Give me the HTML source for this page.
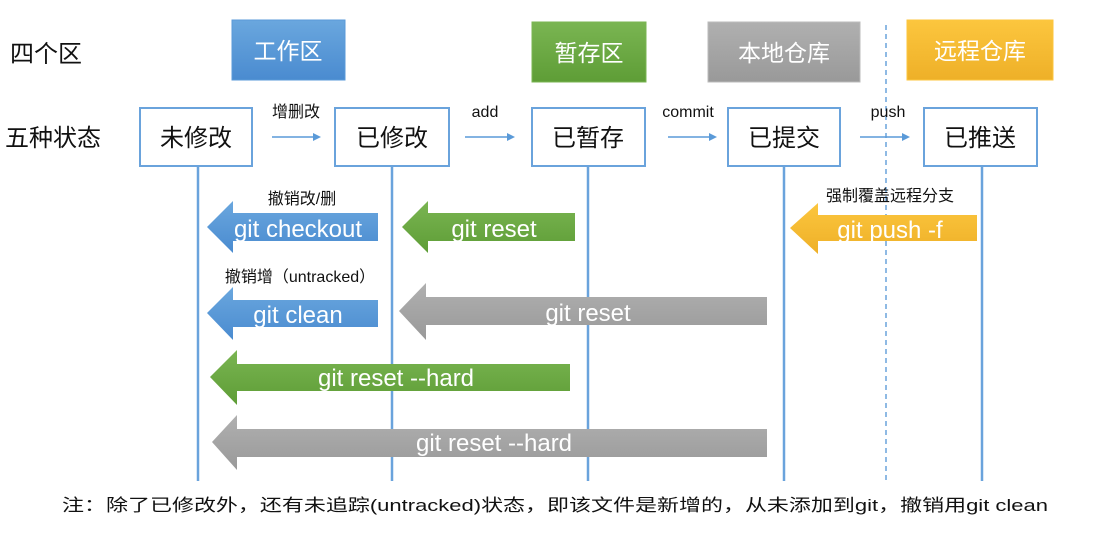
<!DOCTYPE html>
<html><head><meta charset="utf-8"><style>
body{margin:0;background:#fff;}
svg{display:block;font-family:"Liberation Sans","Noto Sans CJK SC",sans-serif;}
</style></head><body>
<svg width="1095" height="538" viewBox="0 0 1095 538">
<defs>
<linearGradient id="gb" x1="0" y1="0" x2="0" y2="1"><stop offset="0" stop-color="#6aa7de"/><stop offset="1" stop-color="#4a8bd0"/></linearGradient>
<linearGradient id="gg" x1="0" y1="0" x2="0" y2="1"><stop offset="0" stop-color="#7ab552"/><stop offset="1" stop-color="#5e9d36"/></linearGradient>
<linearGradient id="gy" x1="0" y1="0" x2="0" y2="1"><stop offset="0" stop-color="#fcc63e"/><stop offset="1" stop-color="#eeb028"/></linearGradient>
<linearGradient id="gr" x1="0" y1="0" x2="0" y2="1"><stop offset="0" stop-color="#b0b0b0"/><stop offset="1" stop-color="#999"/></linearGradient>
</defs>
<text x="10" y="62" font-size="24" fill="#111">四个区</text>
<text x="5" y="146" font-size="24" fill="#111">五种状态</text>
<rect x="232" y="20" width="113" height="60" fill="url(#gb)" stroke="#5a9ad8"/>
<text x="288" y="59" font-size="23" fill="#fff" text-anchor="middle">工作区</text>
<rect x="532" y="22" width="114" height="60" fill="url(#gg)" stroke="#7ab552"/>
<text x="589" y="61" font-size="23" fill="#fff" text-anchor="middle">暂存区</text>
<rect x="708" y="22" width="152" height="60" fill="url(#gr)" stroke="#bbb"/>
<text x="784" y="61" font-size="23" fill="#fff" text-anchor="middle">本地仓库</text>
<rect x="907" y="20" width="146" height="60" fill="url(#gy)" stroke="#fcc63e"/>
<text x="980" y="59" font-size="23" fill="#fff" text-anchor="middle">远程仓库</text>
<line x1="886" y1="25" x2="886" y2="481" stroke="#6aa3dc" stroke-width="1.5" stroke-dasharray="5,4"/>
<g stroke="#6aa3dc" stroke-width="2.5">
<line x1="198" y1="166" x2="198" y2="481"/>
<line x1="392" y1="166" x2="392" y2="481"/>
<line x1="588" y1="166" x2="588" y2="481"/>
<line x1="784" y1="166" x2="784" y2="481"/>
<line x1="982" y1="166" x2="982" y2="481"/>
</g>
<g fill="#fff" stroke="#6aa3dc" stroke-width="2">
<rect x="140" y="108" width="112" height="58"/>
<rect x="335" y="108" width="114" height="58"/>
<rect x="532" y="108" width="113" height="58"/>
<rect x="728" y="108" width="112" height="58"/>
<rect x="924" y="108" width="113" height="58"/>
</g>
<g font-size="24" fill="#111" text-anchor="middle">
<text x="196" y="146">未修改</text>
<text x="392" y="146">已修改</text>
<text x="588" y="146">已暂存</text>
<text x="784" y="146">已提交</text>
<text x="980" y="146">已推送</text>
</g>
<g stroke="#5a9ad8" stroke-width="1.5" fill="#5a9ad8">
<line x1="272" y1="137" x2="314" y2="137"/><path d="M321 137 l-8 -4 v8z" stroke="none"/>
<line x1="465" y1="137" x2="507" y2="137"/><path d="M515 137 l-8 -4 v8z" stroke="none"/>
<line x1="668" y1="137" x2="710" y2="137"/><path d="M717 137 l-8 -4 v8z" stroke="none"/>
<line x1="860" y1="137" x2="902" y2="137"/><path d="M910 137 l-8 -4 v8z" stroke="none"/>
</g>
<g font-size="16" fill="#111" text-anchor="middle">
<text x="296" y="117">增删改</text>
<text x="485" y="117">add</text>
<text x="688" y="117">commit</text>
<text x="888" y="117">push</text>
<text x="302" y="204">撤销改/删</text>
<text x="300" y="282">撤销增（untracked）</text>
<text x="890" y="201">强制覆盖远程分支</text>
</g>
<g>
<path d="M207 227 L233 201 V213 H378 V241 H233 V253Z" fill="url(#gb)"/>
<path d="M402 227 L428 201 V213 H575 V241 H428 V253Z" fill="url(#gg)"/>
<path d="M790 228 L818 203 V215 H977 V241 H818 V254Z" fill="url(#gy)"/>
<path d="M207 313 L233 287 V300 H378 V327 H233 V340Z" fill="url(#gb)"/>
<path d="M399 311 L426 283 V297 H767 V325 H426 V340Z" fill="url(#gr)"/>
<path d="M210 377 L237 350 V364 H570 V391 H237 V405Z" fill="url(#gg)"/>
<path d="M212 442 L237 415 V429 H767 V457 H237 V470Z" fill="url(#gr)"/>
</g>
<g font-size="24" fill="#fff" text-anchor="middle">
<text x="298" y="237">git checkout</text>
<text x="494" y="237">git reset</text>
<text x="890" y="238">git push -f</text>
<text x="298" y="323">git clean</text>
<text x="588" y="321">git reset</text>
<text x="396" y="386">git reset --hard</text>
<text x="494" y="451">git reset --hard</text>
</g>
<text x="62" y="511" font-size="17" fill="#111" textLength="986" lengthAdjust="spacingAndGlyphs">注：除了已修改外，还有未追踪(untracked)状态，即该文件是新增的，从未添加到git，撤销用git clean</text>
</svg>
</body></html>
